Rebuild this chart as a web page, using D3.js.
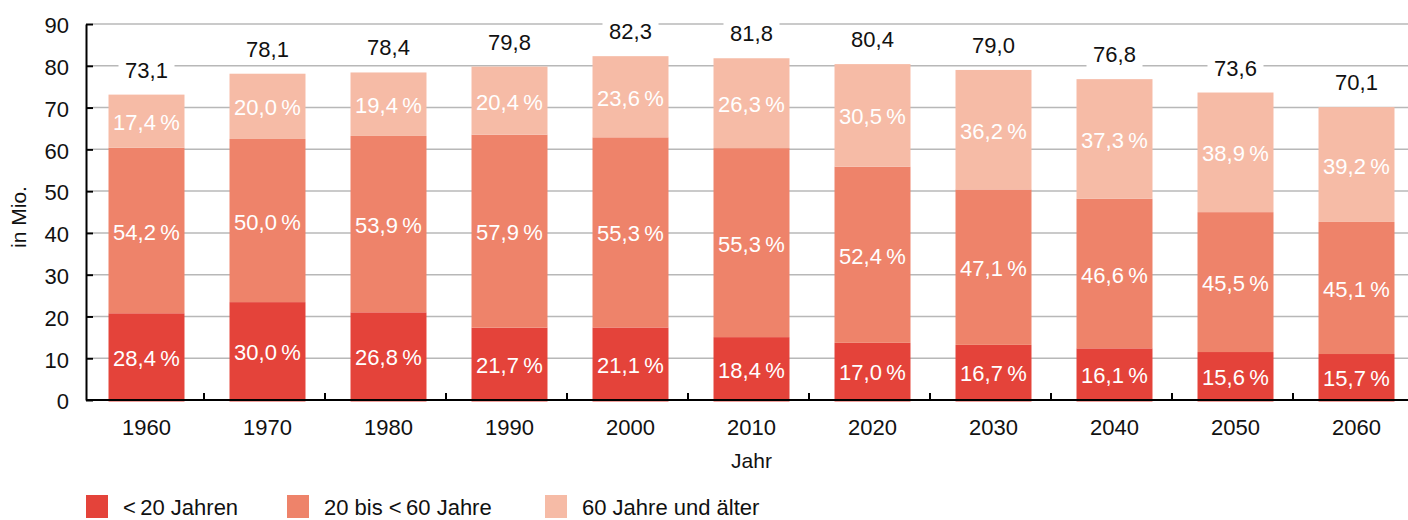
<!DOCTYPE html>
<html>
<head>
<meta charset="utf-8">
<script src="https://cdn.jsdelivr.net/npm/d3@7"></script>
<style>
  body { margin: 0; background: #fff; }
  svg { display: block; font-family: "Liberation Sans", Arial, sans-serif; }
</style>
</head>
<body>
<svg width="1408" height="520"></svg>
<script>
// Bevölkerung nach Altersgruppen, in Mio.
const years = ["1960", "1970", "1980", "1990", "2000", "2010", "2020", "2030", "2040", "2050", "2060"];
const totals = [73.1, 78.1, 78.4, 79.8, 82.3, 81.8, 80.4, 79.0, 76.8, 73.6, 70.1];
const under20 = [28.4, 30.0, 26.8, 21.7, 21.1, 18.4, 17.0, 16.7, 16.1, 15.6, 15.7];
const age20to60 = [54.2, 50.0, 53.9, 57.9, 55.3, 55.3, 52.4, 47.1, 46.6, 45.5, 45.1];
const age60plus = [17.4, 20.0, 19.4, 20.4, 23.6, 26.3, 30.5, 36.2, 37.3, 38.9, 39.2];
const yTicks = [0, 10, 20, 30, 40, 50, 60, 70, 80, 90];
const keys = ["u20", "m", "o"];
const legendLabels = ["<\u200920 Jahren", "20 bis <\u200960 Jahre", "60 Jahre und älter"];
const colors = ["#e4433a", "#ee836a", "#f6bba6"];

const svg = d3.select("svg");
const width = +svg.attr("width");

const de = d3.formatLocale({decimal: ",", thousands: ".", grouping: [3], currency: ["", " €"]});
const fmt = de.format(".1f");

// rows: segment size in Mio. so that the stack ends at the total
const rows = years.map((yr, i) => {
    const pct = {u20: under20[i], m: age20to60[i], o: age60plus[i]};
    const sum = pct.u20 + pct.m + pct.o;
    return {
        year: yr, total: totals[i], pct: pct,
        u20: totals[i] * pct.u20 / sum,
        m: totals[i] * pct.m / sum,
        o: totals[i] * pct.o / sum
    };
});

const x = d3.scaleBand()
    .domain(years)
    .range([86, 1417])
    .paddingInner(0.372)
    .paddingOuter(0.186);

const y = d3.scaleLinear()
    .domain([0, 90])
    .range([400, 24]);

const color = d3.scaleOrdinal().domain(keys).range(colors);

// gridlines
svg.append("g").attr("id", "grid")
    .selectAll("line")
    .data(yTicks.filter(d => d > 0))
    .enter()
    .append("line")
        .attr("x1", 93).attr("x2", width)
        .attr("y1", d => y(d)).attr("y2", d => y(d))
        .attr("stroke", "#b8b8b8")
        .attr("stroke-width", 1.5);

// stacked bars
const series = d3.stack().keys(keys)(rows);

const layer = svg.append("g").attr("id", "bars")
    .selectAll("g")
    .data(series)
    .enter()
    .append("g")
        .attr("fill", d => color(d.key));

layer.selectAll("rect")
    .data(d => d.map(s => ({key: d.key, s: s})))
    .enter()
    .append("rect")
        .attr("x", d => x(d.s.data.year))
        .attr("width", x.bandwidth())
        .attr("y", d => y(d.s[1]))
        .attr("height", d => y(d.s[0]) - y(d.s[1]) + (d.key === "u20" ? 1.5 : 0));

layer.selectAll("text")
    .data(d => d.map(s => ({key: d.key, s: s})))
    .enter()
    .append("text")
        .attr("x", d => x(d.s.data.year) + x.bandwidth() / 2)
        .attr("y", d => (y(d.s[0]) + y(d.s[1])) / 2 + 9)
        .attr("text-anchor", "middle")
        .attr("fill", "#fff")
        .attr("font-size", 22)
        .text(d => fmt(d.s.data.pct[d.key]) + "\u2009%");

// totals over the bars, with white box over the gridlines
const tot = svg.append("g").attr("id", "totals")
    .selectAll("g")
    .data(rows)
    .enter()
    .append("g")
        .attr("transform", d => `translate(${x(d.year) + x.bandwidth() / 2},${y(d.total) - 17})`);

tot.append("rect")
    .attr("x", -28).attr("y", -20)
    .attr("width", 56).attr("height", 25)
    .attr("fill", "#fff");

tot.append("text")
    .attr("text-anchor", "middle")
    .attr("font-size", 22)
    .attr("fill", "#111")
    .text(d => fmt(d.total));

// y axis
const yAxis = svg.append("g")
    .attr("transform", "translate(86,0)")
    .call(d3.axisLeft(y).tickValues(yTicks).tickSizeInner(-7).tickSizeOuter(0).tickPadding(17));
yAxis.select(".domain").attr("stroke", "#000").attr("stroke-width", 2);
yAxis.selectAll(".tick line").attr("stroke", "#000").attr("stroke-width", 2);
yAxis.selectAll(".tick text")
    .attr("font-size", 22)
    .attr("font-family", "Liberation Sans, Arial, sans-serif")
    .attr("fill", "#111")
    .attr("dy", "0.4em");

// x axis
const xAxis = svg.append("g")
    .attr("transform", "translate(0,400)")
    .call(d3.axisBottom(x).tickSize(0).tickPadding(19));
xAxis.select(".domain").remove();
xAxis.selectAll(".tick text")
    .attr("font-size", 22)
    .attr("font-family", "Liberation Sans, Arial, sans-serif")
    .attr("fill", "#111");

xAxis.append("line")
    .attr("x1", 86).attr("x2", width)
    .attr("y1", 0).attr("y2", 0)
    .attr("stroke", "#000")
    .attr("stroke-width", 2);

// small ticks between the years
xAxis.selectAll(".sep")
    .data(years.slice(1))
    .enter()
    .append("line")
        .attr("class", "sep")
        .attr("x1", d => x(d) - x.step() * x.paddingInner() / 2 - 3)
        .attr("x2", d => x(d) - x.step() * x.paddingInner() / 2 - 3)
        .attr("y1", -7).attr("y2", 0)
        .attr("stroke", "#000")
        .attr("stroke-width", 2);

// axis titles
svg.append("text")
    .attr("x", (x.range()[0] + x.range()[1]) / 2)
    .attr("y", 468)
    .attr("text-anchor", "middle")
    .attr("font-size", 21)
    .attr("fill", "#111")
    .text("Jahr");

svg.append("text")
    .attr("transform", "translate(26,217) rotate(-90)")
    .attr("text-anchor", "middle")
    .attr("font-size", 21)
    .attr("fill", "#111")
    .text("in Mio.");

// legend
const legendX = [86, 287, 545];
const legend = svg.append("g").attr("id", "legend")
    .selectAll("g")
    .data(keys)
    .enter()
    .append("g")
        .attr("transform", (d, i) => `translate(${legendX[i]},495)`);

legend.append("rect")
    .attr("width", 22).attr("height", 23)
    .attr("fill", d => color(d));

legend.append("text")
    .attr("x", 37).attr("y", 20)
    .attr("font-size", 22)
    .attr("fill", "#111")
    .text((d, i) => legendLabels[i]);
</script>
</body>
</html>
